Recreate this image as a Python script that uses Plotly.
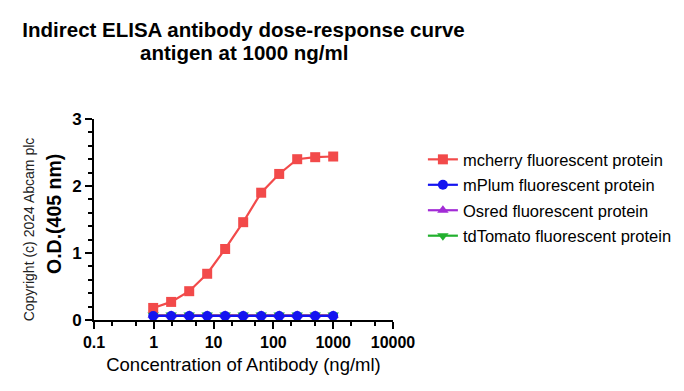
import plotly.graph_objects as go

conc = [0.977, 1.95, 3.91, 7.81, 15.6, 31.25, 62.5, 125, 250, 500, 1000]
mcherry = [0.18, 0.27, 0.43, 0.69, 1.06, 1.46, 1.90, 2.18, 2.40, 2.43, 2.44]
mplum = [0.06, 0.06, 0.06, 0.06, 0.06, 0.06, 0.06, 0.06, 0.06, 0.06, 0.06]
osred = [0.07, 0.07, 0.07, 0.07, 0.07, 0.07, 0.07, 0.07, 0.07, 0.07, 0.07]
tdtomato = [0.075, 0.075, 0.075, 0.075, 0.075, 0.075, 0.075, 0.075, 0.075, 0.075, 0.075]

series_names = ["mcherry fluorescent protein", "mPlum fluorescent protein",
                "Osred fluorescent protein", "tdTomato fluorescent protein"]
title_lines = ["Indirect ELISA antibody dose-response curve", "antigen at 1000 ng/ml"]
x_title = "Concentration of Antibody (ng/ml)"
y_title = "O.D.(405 nm)"
x_tickvals = [0.1, 1, 10, 100, 1000, 10000]
x_ticktext = ["0.1", "1", "10", "100", "1000", "10000"]
y_tickvals = [0, 1, 2, 3]

colors = ["#F24A4A", "#1414F0", "#A22BD6", "#22B02E"]
symbols = ["square", "circle", "triangle-up", "triangle-down"]

fig = go.Figure()
data = [mcherry, mplum, osred, tdtomato]
order = [3, 2, 0, 1]
for i in order:
    fig.add_trace(go.Scatter(
        x=conc, y=data[i], name=series_names[i], mode="lines+markers",
        line=dict(color=colors[i], width=2.2),
        marker=dict(symbol=symbols[i], size=10, color=colors[i]),
        legendrank=i + 1, legendgroup=str(i),
    ))

font = "Arial, Liberation Sans, sans-serif"
fig.update_layout(
    width=684, height=391,
    margin=dict(l=94, r=291, t=119, b=71, autoexpand=False),
    paper_bgcolor="white", plot_bgcolor="white",
    font=dict(family=font, color="black"),
    title=dict(text=title_lines[0], x=0.5, xref="paper", xanchor="center",
               y=1 - 30 / 391, yref="container", yanchor="middle",
               font=dict(size=20.5, weight="bold", family=font)),
    showlegend=True,
    legend=dict(x=1.10, y=0.885, xanchor="left", yanchor="top",
                font=dict(size=16.5, family=font), tracegroupgap=1,
                bgcolor="rgba(0,0,0,0)"),
)
fig.add_annotation(
    text=title_lines[1], xref="paper", yref="paper", x=0.5, y=1.333,
    xanchor="center", yanchor="middle", showarrow=False,
    font=dict(size=20.5, weight="bold", family=font),
)
fig.update_xaxes(
    type="log", range=[-1, 4], tickvals=x_tickvals, ticktext=x_ticktext,
    automargin=False,
    ticks="outside", ticklen=7, tickwidth=2, tickcolor="black",
    showline=True, linewidth=2, linecolor="black", showgrid=False, zeroline=False,
    tickfont=dict(size=16, weight="bold", family=font),
    minor=dict(ticks="outside", ticklen=4, tickwidth=1.5, tickcolor="black", showgrid=False),
    title=dict(text=x_title, font=dict(size=18.5, family=font), standoff=8),
)
fig.update_yaxes(
    range=[0, 3], tickvals=y_tickvals, automargin=False,
    ticks="outside", ticklen=7, tickwidth=2, tickcolor="black",
    showline=True, linewidth=2, linecolor="black", showgrid=False, zeroline=False,
    tickfont=dict(size=17, weight="bold", family=font),
    minor=dict(ticks="outside", ticklen=4, tickwidth=1.5, tickcolor="black", dtick=0.2, showgrid=False),
)
fig.add_annotation(
    text=y_title, textangle=-90,
    xref="paper", yref="paper", x=-0.134, y=0.527, xanchor="center", yanchor="middle",
    showarrow=False, font=dict(size=19.5, weight="bold", family=font),
)
fig.add_annotation(
    text="Copyright (c) 2024 Abcam plc", textangle=-90,
    xref="paper", yref="paper", x=-0.218, y=0.45, xanchor="center", yanchor="middle",
    showarrow=False, font=dict(size=14, family=font, color="#222222"),
)
fig.write_html("out.html", config={"displayModeBar": False},
               post_script="document.body.style.margin='0';")
